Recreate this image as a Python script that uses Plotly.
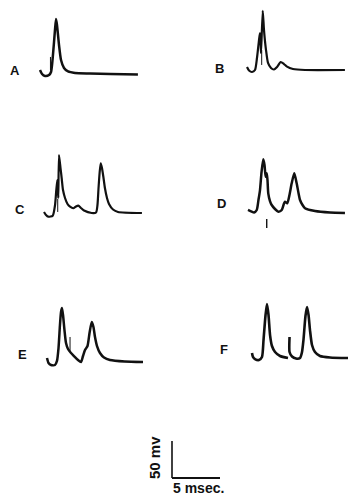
import plotly.graph_objects as go

# ---------------- data (time in ms, membrane potential in mV) -------------
A_t = [0, 0.21, 0.52, 0.94, 1.15, 1.35, 1.56, 1.67, 1.77, 1.98, 2.19, 2.5, 2.92, 3.65, 5.2, 7.3, 10.2]
A_v = [5.4, 0, -2.7, -1.4, 2.7, 25.7, 59.5, 74.3, 66.2, 39.2, 18.9, 8.1, 3.4, 1.4, 0.7, 0, -0.7]
A_art_t = [1.09, 1.09]
A_art_v = [23, 5.4]

B_t = [0, 0.21, 0.52, 0.83, 1.04, 1.25, 1.35, 1.43, 1.46, 1.64, 1.77, 1.98, 2.19, 2.5, 2.81,
       3.13, 3.51, 3.85, 4.17, 4.79, 6.04, 10.2]
B_v = [4.1, -0.7, -2.7, 0, 16.2, 40.5, 50, 33.8, 23, 80.1, 54, 27, 9.5, 2.7, 0.7,
       4.1, 10.8, 8.1, 4.5, 1.4, 0, 0]
B_art_t = [1.53, 1.53]
B_art_v = [27, 6.8]

C_t = [0, 0.21, 0.45, 0.91, 1.15, 1.28, 1.39, 1.46, 1.49, 1.56, 1.72, 1.84, 1.98, 2.19, 2.45,
       2.71, 3.05, 3.33, 3.57, 3.85, 4.17, 4.97, 5.42, 5.57, 5.68, 5.8, 5.91, 6.04, 6.2, 6.35,
       6.56, 6.77, 7.19, 7.71, 10.2]
C_v = [1.4, -2.7, -5, -3.6, 10.8, 31, 44.6, 28.4, 20.3, 78.4, 60.8, 47.3, 31, 20.3, 12.2,
       8.5, 6.4, 8.8, 9.9, 6.8, 3.4, 0, 0.7, 10.8, 33.8, 55.4, 67.2, 60.8, 47.3, 33.4,
       20.3, 12.2, 4.7, 1.4, 0]
C_art_t = [1.43, 1.43]
C_art_v = [18.9, 1.4]

D_t = [0, 0.39, 0.63, 0.91, 1.09, 1.25, 1.41, 1.59, 1.72, 1.84, 1.95, 2.03, 2.11, 2.29, 2.47,
       2.81, 3.16, 3.51, 3.75, 3.85, 4.09, 4.32, 4.55, 4.82, 5.07, 5.26, 5.42, 5.68, 5.94,
       6.98, 8.54, 10.1]
D_v = [4.1, 1.8, 0.7, 4.1, 17.6, 31, 55.4, 72.6, 64.9, 49, 53.6, 44.6, 26.6, 16.2, 10.8,
       5.4, 1.8, 4.1, 12.8, 15.3, 13.1, 24.3, 40.1, 53.6, 40.1, 27, 17.6, 10.8, 6.4,
       2.7, 0.7, 0]
D_mark_t = [1.95, 1.95]
D_mark_v = [-8.1, -20.3]

E_t = [0, 0.16, 0.42, 0.83, 1.04, 1.2, 1.35, 1.46, 1.56, 1.67, 1.82, 1.98, 2.19, 2.5, 2.81,
       3.23, 3.54, 3.75, 3.96, 4.22, 4.43, 4.66, 4.84, 5.0, 5.21, 5.52, 5.94, 6.56, 8.1, 10.0]
E_v = [5.4, -1.4, -4.1, -4.1, 1.4, 18.9, 50, 67.6, 73, 63.5, 43.2, 25.7, 17.6, 12.2, 8.1,
       2.7, 0, 8.1, 16.2, 21.6, 39.2, 54.1, 47.3, 33.8, 21.6, 12.2, 6.1, 2.7, 0.7, 0]
E_art_t = [2.4, 2.4]
E_art_v = [33.8, 14.9]

F1_t = [0, 0.1, 0.31, 0.73, 1.04, 1.2, 1.41, 1.56, 1.72, 1.88, 2.08, 2.4, 2.92, 3.75]
F1_v = [6.8, 1.4, -1.4, -2.7, 1.4, 24.3, 58.1, 73, 58.1, 31, 16.2, 8.1, 2.7, 0]
F2_t = [3.91, 3.91, 4.17, 4.58, 5.0, 5.21, 5.36, 5.57, 5.73, 5.89, 6.04, 6.25, 6.56, 7.08, 8.13, 10.0]
F2_v = [28.4, 8.1, 2.0, -0.7, 0, 8.1, 24.3, 56.8, 68.9, 58.1, 37.8, 17.6, 8.1, 2.7, 0.7, 0]

PANEL_LABELS = ["A", "B", "C", "D", "E", "F"]
SCALE_MS = 5
SCALE_MV = 50
SCALE_LABEL_MV = "50 mv"
SCALE_LABEL_MS = "5 msec."

# ---------------- layout constants (pixels) ----------------
W, H = 349, 497
PX_PER_MS = 9.6
PX_PER_MV = 0.74
# pixel position of (t=0, v=0) for each panel, and of the scale-bar corner
ORIGIN = {
    "A": (40, 74), "B": (247, 70), "C": (44, 213), "D": (248, 213),
    "E": (47, 362), "F": (252, 358), "S": (172, 478),
}
LABEL_POS = {"A": (15, 70), "B": (219, 68), "C": (20, 209), "D": (222, 203),
             "E": (23, 354), "F": (224, 349)}
INK = "#111111"

fig = go.Figure()
axis_ids = {}
for i, key in enumerate(["A", "B", "C", "D", "E", "F", "S"]):
    n = i + 1
    axis_ids[key] = ("x" if n == 1 else f"x{n}", "y" if n == 1 else f"y{n}")
    x0, y0 = ORIGIN[key]
    xr = [-x0 / PX_PER_MS, (W - x0) / PX_PER_MS]
    yr = [(y0 - H) / PX_PER_MV, y0 / PX_PER_MV]
    xa = dict(domain=[0, 1], range=xr, visible=False, fixedrange=True)
    ya = dict(domain=[0, 1], range=yr, visible=False, fixedrange=True)
    if n > 1:
        xa["overlaying"] = "x"
        ya["overlaying"] = "y"
        xa["anchor"] = f"y{n}"
        ya["anchor"] = f"x{n}"
    fig.update_layout(**{("xaxis" if n == 1 else f"xaxis{n}"): xa,
                         ("yaxis" if n == 1 else f"yaxis{n}"): ya})


def add(key, t, v, width):
    xa, ya = axis_ids[key]
    fig.add_trace(go.Scatter(x=t, y=v, mode="lines", xaxis=xa, yaxis=ya,
                             line=dict(color=INK, width=width, shape="spline", smoothing=0.6),
                             hoverinfo="skip", showlegend=False))


def add_thin(key, t, v, width=1.0):
    xa, ya = axis_ids[key]
    fig.add_trace(go.Scatter(x=t, y=v, mode="lines", xaxis=xa, yaxis=ya,
                             line=dict(color=INK, width=width),
                             hoverinfo="skip", showlegend=False))


add("A", A_t, A_v, 2.5); add_thin("A", A_art_t, A_art_v)
add("B", B_t, B_v, 2.2); add_thin("B", B_art_t, B_art_v)
add("C", C_t, C_v, 2.2); add_thin("C", C_art_t, C_art_v)
add("D", D_t, D_v, 2.5); add_thin("D", D_mark_t, D_mark_v, 1.4)
add("E", E_t, E_v, 2.5); add_thin("E", E_art_t, E_art_v)
add("F", F1_t, F1_v, 2.6); add("F", F2_t, F2_v, 2.6)

# scale bar
add_thin("S", [0, 0], [SCALE_MV, 0], 1.6)
add_thin("S", [0, SCALE_MS], [0, 0], 2.2)

ann = []
for lab in PANEL_LABELS:
    px, py = LABEL_POS[lab]
    ann.append(dict(x=px / W, y=1 - py / H, xref="paper", yref="paper", text=f"<b>{lab}</b>",
                    showarrow=False, font=dict(family="Liberation Sans", size=13, color=INK),
                    xanchor="center", yanchor="middle"))
ann.append(dict(x=154 / W, y=1 - 458 / H, xref="paper", yref="paper",
                text=f"<b>{SCALE_LABEL_MV}</b>", showarrow=False, textangle=-90,
                font=dict(family="Liberation Sans", size=15, color=INK),
                xanchor="center", yanchor="middle"))
ann.append(dict(x=198 / W, y=1 - 488 / H, xref="paper", yref="paper",
                text=f"<b>{SCALE_LABEL_MS}</b>", showarrow=False,
                font=dict(family="Liberation Sans", size=14, color=INK),
                xanchor="center", yanchor="middle"))

fig.update_layout(width=W, height=H, autosize=False, margin=dict(l=0, r=0, t=0, b=0),
                  paper_bgcolor="white", plot_bgcolor="white", annotations=ann,
                  showlegend=False)

fig.write_html("out.html", config={"displayModeBar": False, "staticPlot": True},
               post_script="document.body.style.margin='0';")
